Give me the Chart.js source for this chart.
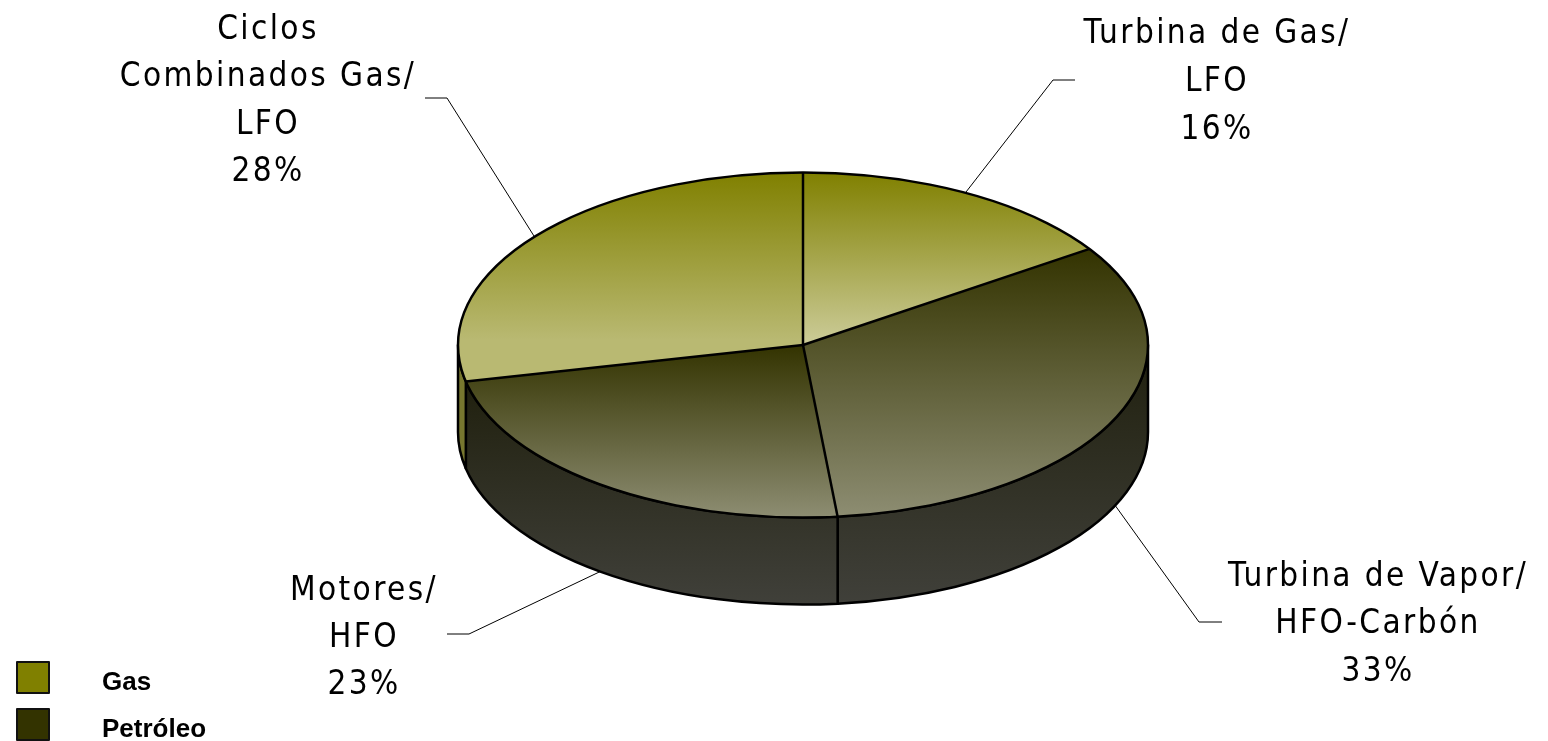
<!DOCTYPE html>
<html><head><meta charset="utf-8">
<style>html,body{margin:0;padding:0;background:#fff;overflow:hidden}canvas{display:block}</style>
<script src="https://cdn.jsdelivr.net/npm/chart.js@4"></script></head>
<body><canvas id="c" width="1548" height="741"></canvas>
<script>
const categories = ['Turbina de Gas/ LFO','Turbina de Vapor/ HFO-Carbón','Motores/ HFO','Ciclos Combinados Gas/ LFO'];
const shares = [15.6,32.8,23.2,28.4];
const labelLines = [['Turbina de Gas/','LFO','16%'],['Turbina de Vapor/','HFO-Carbón','33%'],['Motores/','HFO','23%'],['Ciclos','Combinados Gas/','LFO','28%']];
const topStops = [[['#808000',0],['#cccc99',1]],[['#333300',0],['#8d8d72',1]],[['#333300',0],['#8d8d72',1]],[['#808000',0],['#b9b972',.8],['#b9b972',1]]];
const sideStops = [['#77772f','#77772f'],['#20200e','#40403a'],['#20200e','#40403a'],['#77772f','#77772f']];
const legendNames = ['Gas','Petróleo'];
const legendColors = ['#808000','#333300'];

const CY=345, K=0.5, DEPTH=87;
const labelBoxes=[{x:1217,y:34,elbow:[[1075,80],[1053,80]],low:false},
 {x:1378,y:577,elbow:[[1222,622],[1199,622]],low:true},
 {x:364,y:591,elbow:[[447,634],[469,634]],low:true},
 {x:268,y:30,elbow:[[425,98],[447,98]],low:false}];
const lineGap=[48,47.5,47,47.5];

const pie3d={id:'pie3d',
 beforeDatasetsDraw(chart){
  const ctx=chart.ctx, arcs=chart.getDatasetMeta(0).data;
  const a0=arcs[0], cx=a0.x, cy0=a0.y, R=a0.outerRadius, ry=R*K;
  ctx.save();
  arcs.forEach((arc,i)=>{
    const a=Math.max(arc.startAngle,0),b=Math.min(arc.endAngle,Math.PI);
    if(b<=a) return;
    const yTop=CY+Math.min(ry*Math.sin(a),ry*Math.sin(b));
    const g=ctx.createLinearGradient(0,yTop,0,CY+ry+DEPTH);
    g.addColorStop(0,sideStops[i][0]);g.addColorStop(1,sideStops[i][1]);
    ctx.beginPath();
    ctx.ellipse(cx,CY,R,ry,0,a,b);
    ctx.ellipse(cx,CY+DEPTH,R,ry,0,b,a,true);
    ctx.closePath();
    ctx.fillStyle=g;ctx.fill();
    ctx.lineWidth=2.5;ctx.strokeStyle='#000';ctx.lineJoin='round';ctx.stroke();
  });
  arcs.forEach((arc,i)=>{
    const pts=[0,Math.sin(arc.startAngle),Math.sin(arc.endAngle)];
    if(arc.startAngle<=-Math.PI/2+1e-6||arc.endAngle>=3*Math.PI/2-1e-6) pts.push(-1);
    if(arc.startAngle<Math.PI/2&&arc.endAngle>Math.PI/2) pts.push(1);
    const y0=Math.min(...pts)*R, y1=Math.max(...pts)*R;
    const g=ctx.createLinearGradient(0,cy0+y0,0,cy0+y1);
    topStops[i].forEach(([c,p])=>g.addColorStop(p,c));
    arc.options.backgroundColor=g;
  });
  ctx.translate(0,CY);ctx.scale(1,K);ctx.translate(0,-cy0);
 },
 afterDatasetsDraw(chart){
  const ctx=chart.ctx, arcs=chart.getDatasetMeta(0).data;
  ctx.restore();
  const a0=arcs[0], cx=a0.x, R=a0.outerRadius, ry=R*K;
  const pt=(ang,dy=0)=>[cx+R*Math.cos(ang),CY+ry*Math.sin(ang)+dy];
  ctx.save();
  ctx.strokeStyle='#000';ctx.lineWidth=2.5;ctx.lineJoin='round';
  ctx.beginPath();ctx.ellipse(cx,CY,R,ry,0,0,Math.PI*2);ctx.stroke();
  arcs.forEach(arc=>{
    const [x,y]=pt(arc.startAngle);
    ctx.beginPath();ctx.moveTo(cx,CY);ctx.lineTo(x,y);ctx.stroke();
  });
  ctx.lineWidth=1;
  arcs.forEach((arc,i)=>{
    const mid=(arc.startAngle+arc.endAngle)/2, b=labelBoxes[i];
    const [x,y]=pt(mid,b.low?DEPTH:0);
    ctx.beginPath();ctx.moveTo(...b.elbow[0]);ctx.lineTo(...b.elbow[1]);ctx.lineTo(x,y);ctx.stroke();
  });
  ctx.fillStyle='#000';ctx.textAlign='center';ctx.textBaseline='middle';
  ctx.font='33px "DejaVu Sans Condensed", "DejaVu Sans"';
  if('fontStretch' in ctx) ctx.fontStretch='condensed';
  if('letterSpacing' in ctx) ctx.letterSpacing='2.4px';
  labelLines.forEach((lines,i)=>{
    lines.forEach((t,j)=>ctx.fillText(t,labelBoxes[i].x,labelBoxes[i].y+j*lineGap[i]));
  });
  if('letterSpacing' in ctx) ctx.letterSpacing='0px';
  if('fontStretch' in ctx) ctx.fontStretch='normal';
  ctx.textAlign='left';ctx.font='bold 26px "Liberation Sans"';
  legendNames.forEach((n,i)=>{
    const top=662+i*47;
    ctx.fillStyle=legendColors[i];ctx.fillRect(17,top,32,31);
    ctx.strokeStyle='#111';ctx.lineWidth=2;ctx.strokeRect(17,top,32,31);
    ctx.fillStyle='#000';ctx.fillText(n,102,top+21);
  });
  ctx.restore();
 }};

new Chart(document.getElementById('c'),{
 type:'pie',
 data:{labels:categories,datasets:[{data:shares,borderWidth:0,backgroundColor:legendColors.concat(legendColors),clip:false}]},
 options:{responsive:false,animation:false,
  layout:{padding:{left:458,right:400,top:25,bottom:26}},
  plugins:{legend:{display:false},tooltip:{enabled:false}}},
 plugins:[pie3d]});
</script></body></html>
